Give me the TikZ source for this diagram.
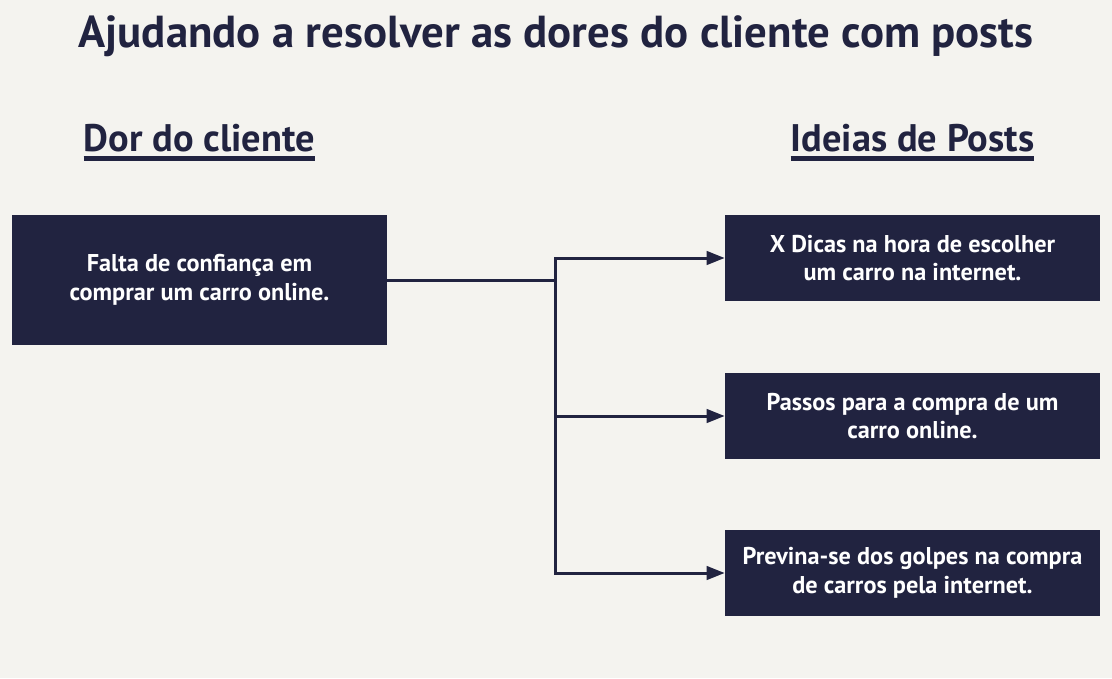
\documentclass[tikz,border=0pt]{standalone}
\usepackage{fontspec}
\setmainfont{PT Sans}
\usetikzlibrary{arrows.meta}
\definecolor{azulescuro}{HTML}{212340}
\definecolor{fundo}{HTML}{F4F3EF}

\begin{document}
\begin{tikzpicture}[x=0.75pt,y=-0.75pt,
                    titulo/.style={text=azulescuro,font=\bfseries\fontsize{33.6}{38}\selectfont,anchor=base,inner sep=0pt},
                    cabecalho/.style={text=azulescuro,font=\bfseries\fontsize{28.8}{34}\selectfont,anchor=base,inner sep=0pt},
                    sublinhado/.style={azulescuro,line width=3.75pt},
                    caixa/.style={fill=azulescuro,text=white,font=\bfseries\fontsize{18.2}{21.5}\selectfont,align=center,inner sep=0pt,minimum width=281.25pt},
                    ligacao/.style={azulescuro,line width=2.25pt},
                    seta/.style={ligacao,-{Triangle[length=13.5pt,width=10pt]}}]
                    \fill[fundo] (0,0) rectangle (1112,678);
                    \useasboundingbox (0,0) rectangle (1112,678);

                    \node[titulo] (tit) at (556,47) {Ajudando a resolver as dores do cliente com posts};

                    \node[cabecalho] (dor) at (199.5,151) {Dor do cliente};
                    \node[cabecalho] (ideias) at (912.5,151) {Ideias de Posts};
                    \draw[sublinhado] ([yshift=-5.6pt]dor.base west) -- ([yshift=-5.6pt]dor.base east);
                    \draw[sublinhado] ([yshift=-5.6pt]ideias.base west) -- ([yshift=-5.6pt]ideias.base east);

                    \node[caixa,minimum height=97.5pt] (falta) at (199.5,280) {Falta de confiança em\\comprar um carro online.};

                    \node[caixa,minimum height=64.5pt] (dicas) at (912.5,258) {X Dicas na hora de escolher\\um carro na internet.};
                    \node[caixa,minimum height=64.5pt] (passos) at (912.5,416) {Passos para a compra de um\\carro online.};
                    \node[caixa,minimum height=64.5pt] (golpes) at (912.5,573) {Previna-se dos golpes na compra\\de carros pela internet.};

                    \coordinate (juncao) at (555,280);

                    \draw[ligacao] (falta.east) -- (juncao);
                    \draw[ligacao,line cap=rect] (juncao |- dicas.west) -- (juncao |- golpes.west);
                    \draw[seta] (juncao |- dicas.west) -- (dicas.west);
                    \draw[seta] (juncao |- passos.west) -- (passos.west);
                    \draw[seta] (juncao |- golpes.west) -- (golpes.west);
                \end{tikzpicture}
\end{document}
